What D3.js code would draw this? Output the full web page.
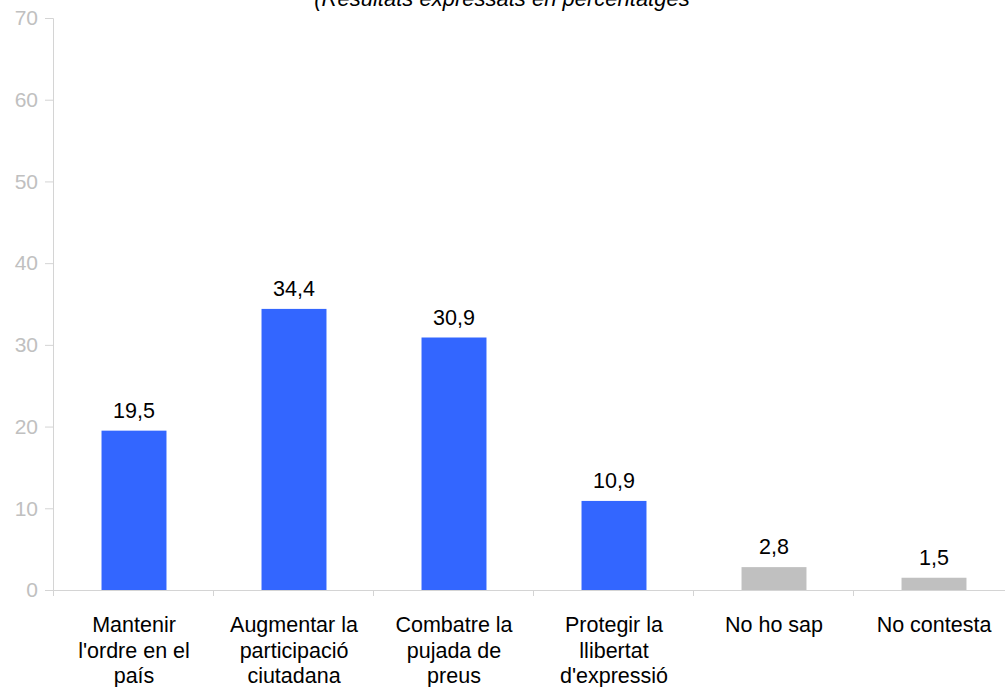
<!DOCTYPE html>
<meta charset="utf-8">
<html>
<head>
<style>
body { margin: 0; background: #fff; }
text { font-family: "Liberation Sans", Arial, sans-serif; }
</style>
</head>
<body>
<svg width="1005" height="687"></svg>
<script src="https://cdn.jsdelivr.net/npm/d3@7/dist/d3.min.js"></script>
<script>
// data
var categories = [
  ["Mantenir", "l'ordre en el", "país"],
  ["Augmentar la", "participació", "ciutadana"],
  ["Combatre la", "pujada de", "preus"],
  ["Protegir la", "llibertat", "d'expressió"],
  ["No ho sap"],
  ["No contesta"]
];
var values = [19.5, 34.4, 30.9, 10.9, 2.8, 1.5];
var barColors = ["#3366ff", "#3366ff", "#3366ff", "#3366ff", "#c0c0c0", "#c0c0c0"];
var yTicks = [0, 10, 20, 30, 40, 50, 60, 70];

var svg = d3.select("svg");
var plotL = 53, plotR = 1013, plotT = 18, plotB = 590;

var x = d3.scaleBand().domain(d3.range(values.length)).range([plotL, plotR]).padding(0);
var y = d3.scaleLinear().domain([0, 70]).range([plotB, plotT]);
var barW = x.bandwidth() * 0.406;

// title (cut at the top like the source)
svg.append("text")
  .attr("x", 502).attr("y", 6)
  .attr("text-anchor", "middle")
  .style("font-size", "22px").style("font-style", "italic")
  .attr("fill", "#000")
  .text("(Resultats expressats en percentatges");

// y axis
var yAxis = svg.append("g").attr("transform", "translate(" + plotL + ",0)")
  .call(d3.axisLeft(y).tickValues(yTicks).tickSize(8).tickPadding(7));
yAxis.select(".domain").attr("stroke", "#d4d4d4");
yAxis.selectAll(".tick line").attr("stroke", "#d4d4d4");
yAxis.selectAll(".tick text").attr("fill", "#c0c0c0").style("font-size", "21px")
  .style("font-family", "Liberation Sans, Arial, sans-serif");

// x axis
var xAxis = svg.append("g").attr("transform", "translate(0," + plotB + ")");
xAxis.append("line").attr("x1", plotL).attr("x2", plotR).attr("y1", 0.5).attr("y2", 0.5)
  .attr("stroke", "#d4d4d4");
xAxis.selectAll(".xt").data(d3.range(values.length + 1)).enter().append("line")
  .attr("x1", function(i) { return plotL + i * x.step() + 0.5; })
  .attr("x2", function(i) { return plotL + i * x.step() + 0.5; })
  .attr("y1", 0).attr("y2", 6)
  .attr("stroke", "#d4d4d4");

// bars
svg.selectAll(".bar").data(values).enter().append("rect")
  .attr("x", function(d, i) { return x(i) + x.bandwidth() / 2 - barW / 2 + 1; })
  .attr("y", function(d) { return y(d); })
  .attr("width", barW)
  .attr("height", function(d) { return y(0) - y(d); })
  .attr("fill", function(d, i) { return barColors[i]; });

// value labels
svg.selectAll(".val").data(values).enter().append("text")
  .attr("x", function(d, i) { return x(i) + x.bandwidth() / 2 + 1; })
  .attr("y", function(d) { return y(d) - 13; })
  .attr("text-anchor", "middle")
  .style("font-size", "21.5px")
  .attr("fill", "#000")
  .text(function(d) { return d.toFixed(1).replace(".", ","); });

// category labels
var cat = svg.selectAll(".cat").data(categories).enter().append("text")
  .attr("text-anchor", "middle")
  .style("font-size", "21.5px")
  .attr("fill", "#000");
cat.each(function(lines, i) {
  var t = d3.select(this);
  lines.forEach(function(l, j) {
    t.append("tspan")
      .attr("x", x(i) + x.bandwidth() / 2 + 1)
      .attr("y", 632 + j * 25.7)
      .text(l);
  });
});
</script>
</body>
</html>
